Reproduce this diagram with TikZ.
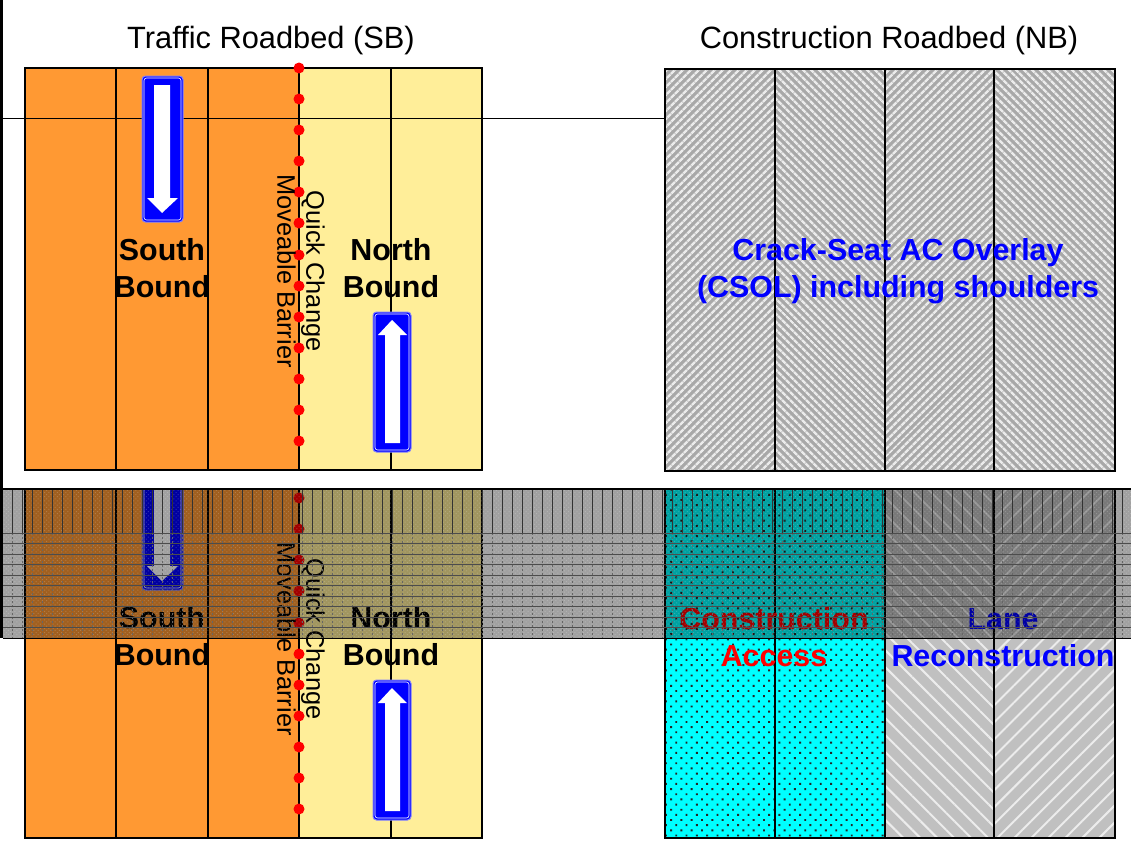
\documentclass[tikz,border=0pt]{standalone}
\usepackage{fontspec}
\setmainfont{Liberation Sans}
\usetikzlibrary{patterns.meta}
\definecolor{rdorange}{RGB}{255,153,51}
\definecolor{rdyellow}{RGB}{255,238,153}
\definecolor{rdgray}{RGB}{192,192,192}
\definecolor{rdhatch}{RGB}{168,168,168}
\definecolor{rdcyan}{RGB}{0,255,255}
\definecolor{rdblue}{RGB}{0,0,255}
\definecolor{rdred}{RGB}{255,0,0}
\definecolor{rdedge}{RGB}{130,130,255}
\tikzset{
  lane/.style={line width=1.4pt,black},
  signbox/.style={draw=rdedge,fill=rdblue,line width=1pt,rounded corners=3.5pt},
  signline/.style={draw=white,line width=.6pt,rounded corners=2.5pt},
  signarrow/.style={fill=white},
  title/.style={font=\fontsize{30.8}{35}\selectfont,align=center,inner sep=0pt},
  lbl/.style={font=\fontsize{30.4}{37}\selectfont\bfseries,align=center,inner sep=0pt},
  barrier/.style={font=\fontsize{25.4}{29}\selectfont,align=center,inner sep=0pt,rotate=-90},
  stud/.style={circle,fill=rdred,inner sep=0pt,minimum size=11pt}
}
\begin{document}
\begin{tikzpicture}[x=1pt,y=-1pt]
  \useasboundingbox (0,0) rectangle (1131,851);
  % Titles
  \node[title] (sbtitle) at (271,41) {Traffic Roadbed (SB)};
  \node[title] (nbtitle) at (889,41) {Construction Roadbed (NB)};
  % Traffic roadbed, drawn for both stages
  \foreach \dy/\ctop in {0/0,368/489}{
    \begin{scope}
      \clip (0,\ctop) rectangle (1131,851);
      \begin{scope}[yshift=-\dy pt]
        \fill[rdorange] (25,68) rectangle (299,470);
        \fill[rdyellow] (299,68) rectangle (482,470);
        \draw[lane] (25,68) rectangle (482,470);
        \foreach \x in {116,208,299,391}
          \draw[lane] (\x,68) -- (\x,470);
        % Median line in the first stage
        \ifnum\dy=0
          \draw[line width=.6pt] (3,118) -- (665,118);
        \fi
        % South sign
        \draw[signbox] (142,76) rectangle (183,222);
        \draw[signline] (144,78) rectangle (181,220);
        \fill[signarrow] (154,85) -- (170,85) -- (170,198) -- (178,198)
          -- (162,213) -- (147,198) -- (154,198) -- cycle;
        % North sign
        \draw[signbox] (373,312) rectangle (411,452);
        \draw[signline] (375,314) rectangle (409,450);
        \fill[signarrow] (385,443) -- (400,443) -- (400,335) -- (407,335)
          -- (392,320) -- (378,335) -- (385,335) -- cycle;
        % Barrier
        \foreach \y in {68,99,130,161,192,223,255,286,317,348,379,410,441}
          \node[stud] (stud\dy-\y) at (299,\y) {};
        \node[barrier] (barrier\dy) at (301,271) {Quick Change\\Moveable Barrier};
        \node[lbl] (south\dy) at (162,268.5) {South\\Bound};
        \node[lbl] (north\dy) at (391,268.5) {North\\Bound};
      \end{scope}
    \end{scope}
  }
  % Construction roadbed, first stage
  \fill[rdhatch] (665,69) rectangle (1115,471);
  \foreach \xa/\xb/\ang in {665/775/45,775/885/-45,885/994/45,994/1115/-45}
    \fill[pattern={Lines[angle=\ang,distance=5.4pt,line width=2.6pt]},pattern color=white!92!black]
      (\xa,69) rectangle (\xb,471);
  \draw[lane] (665,69) rectangle (1115,471);
  \foreach \x in {775,885,994}
    \draw[lane] (\x,69) -- (\x,471);
  \node[lbl,text=rdblue] (csol) at (898,271.5) {Crack-Seat AC Overlay\\(CSOL) including shoulders};
  % Construction roadbed, second stage
  \fill[rdcyan] (665,489) rectangle (885,838);
  \fill[pattern={Dots[angle=45,distance=7.3pt,radius=1.35pt]},pattern color=black!85]
    (665,489) rectangle (885,838);
  \fill[rdgray] (885,489) rectangle (1115,838);
  \fill[pattern={Lines[angle=-45,distance=12pt,line width=2pt]},pattern color=white!70!rdgray]
    (885,489) rectangle (994,838);
  \fill[pattern={Lines[angle=45,distance=12pt,line width=2pt]},pattern color=white!70!rdgray]
    (994,489) rectangle (1115,838);
  \draw[lane] (665,489) rectangle (1115,838);
  \foreach \x in {775,885,994}
    \draw[lane] (\x,489) -- (\x,838);
  \node[lbl,text=rdred] (access) at (774,637.5) {Construction\\Access};
  \node[lbl,text=rdblue] (recon) at (1003,637.5) {Lane\\Reconstruction};
  % Shaded band
  \fill[black,opacity=.37] (3,489) rectangle (1131,638);
  \fill[pattern={Dots[angle=45,distance=3pt,radius=.7pt]},pattern color=white,opacity=.18]
    (3,489) rectangle (1131,638);
  \foreach \x in {12,22,...,1131}{
    \draw[line width=.35pt,black!80] (\x,489) -- (\x,533);
    \draw[line width=.3pt,black!60,dash pattern=on 2pt off 2pt] (\x,533) -- (\x,638);
  }
  \foreach \y in {533,543.5,...,630}
    \draw[line width=.3pt,black!70] (3,\y) -- (1131,\y);
  \draw[line width=.6pt] (3,638) -- (1131,638);
  \draw[line width=2pt] (0,489) -- (1131,489);
  % Left border
  \draw[line width=3pt] (1.5,0) -- (1.5,638);
\end{tikzpicture}
\end{document}
